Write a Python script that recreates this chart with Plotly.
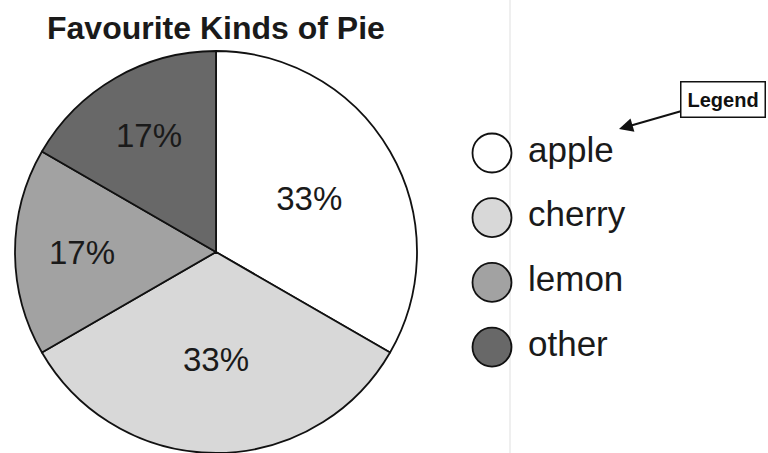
import plotly.graph_objects as go

# pie data
kinds = ["apple", "cherry", "lemon", "other"]
votes = [2, 2, 1, 1]
shades = ["#ffffff", "#d8d8d8", "#a2a2a2", "#686868"]

W, H = 768, 453
FONT = "Liberation Sans, Arial, Helvetica, sans-serif"

# pie centre (216, 253) px, radius ~202
cx, cy, r = 216, 253, 202
fig = go.Figure()

fig.add_trace(go.Pie(
    labels=kinds,
    values=votes,
    sort=False,
    direction="clockwise",
    rotation=0,
    marker=dict(colors=shades, line=dict(color="#111111", width=1.8)),
    texttemplate="%{percent:.0%}",
    textposition="inside",
    insidetextorientation="horizontal",
    textfont=dict(family=FONT, size=33, color="#1a1a1a"),
    domain=dict(x=[(cx - r) / W, (cx + r) / W], y=[0, (H - (cy - r)) / H]),
    showlegend=False,
    hoverinfo="label+percent",
))

# hand drawn style legend: circles + labels on a hidden pixel axis
leg_y = [153 + 64.7 * i for i in range(len(kinds))]
fig.add_trace(go.Scatter(
    x=[492] * len(kinds), y=leg_y,
    mode="markers",
    marker=dict(size=39, color=shades, line=dict(color="#111111", width=1.8)),
    showlegend=False, hoverinfo="skip",
))
fig.add_trace(go.Scatter(
    x=[528] * len(kinds), y=leg_y,
    mode="text",
    text=kinds,
    textposition="middle right",
    textfont=dict(family=FONT, size=35, color="#1a1a1a"),
    showlegend=False, hoverinfo="skip",
))

fig.update_xaxes(range=[0, W], visible=False, domain=[0, 1], fixedrange=True)
fig.update_yaxes(range=[H, 0], visible=False, domain=[0, 1], fixedrange=True)

fig.add_annotation(
    text="<b>Favourite Kinds of Pie</b>",
    xref="paper", yref="paper", x=216 / W, y=1 - 28 / H,
    xanchor="center", yanchor="middle", showarrow=False,
    font=dict(family=FONT, size=32, color="#1a1a1a"),
)

fig.add_annotation(
    text="<b>Legend</b>",
    xref="paper", yref="paper", x=619 / W, y=1 - 129 / H,
    ax=104, ay=-30, axref="pixel", ayref="pixel",
    showarrow=True, arrowhead=2, arrowsize=1.4, arrowwidth=2, arrowcolor="#111111",
    bordercolor="#111111", borderwidth=1.5, borderpad=6, bgcolor="white",
    font=dict(family=FONT, size=20, color="#111111"),
)

# faint scan crease
fig.add_shape(type="line", xref="paper", yref="paper", x0=510 / W, x1=510 / W, y0=0, y1=1,
              line=dict(color="#efefef", width=2), layer="below")

fig.update_layout(
    width=W, height=H,
    margin=dict(l=0, r=0, t=0, b=0),
    paper_bgcolor="white", plot_bgcolor="rgba(0,0,0,0)",
)

fig.write_html("out.html", config={"displayModeBar": False},
               post_script="document.body.style.margin='0';document.body.style.overflow='hidden';")
